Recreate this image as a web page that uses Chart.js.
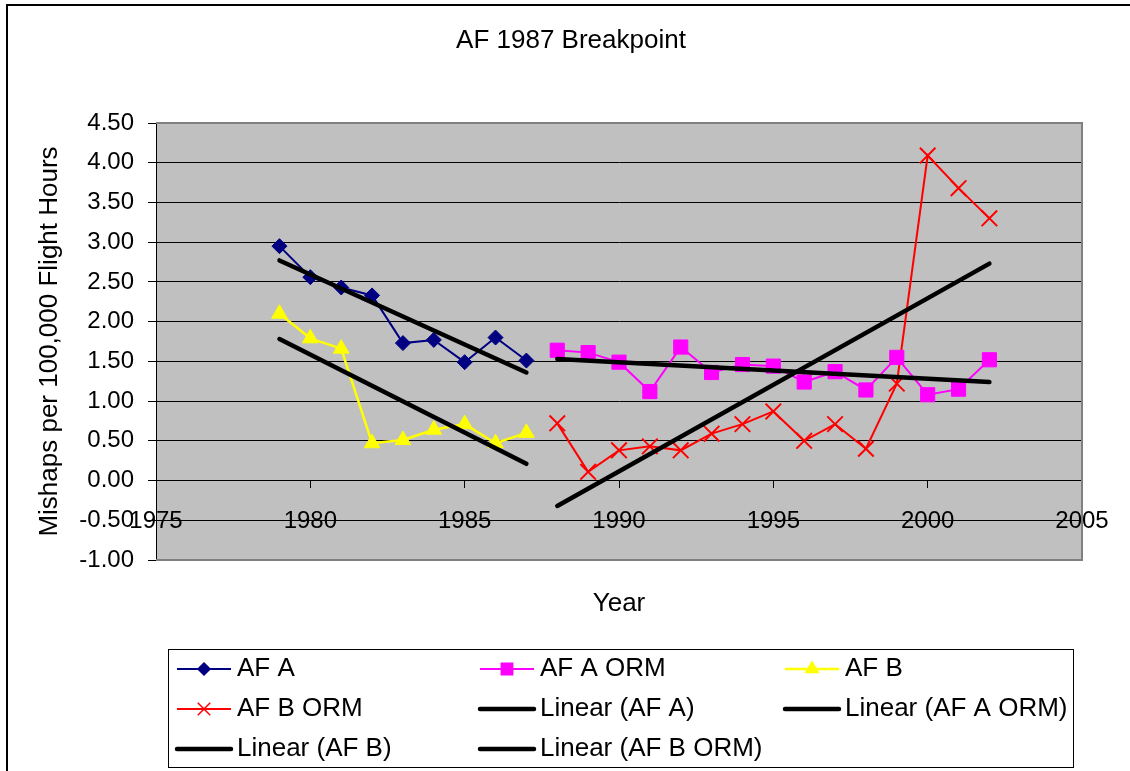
<!DOCTYPE html>
<html>
<head>
<meta charset="utf-8">
<script src="https://cdn.jsdelivr.net/npm/chart.js"></script>
<style>
html,body{margin:0;padding:0;background:#fff;overflow:hidden;}
#wrap{width:1130px;height:771px;position:relative;}
canvas{display:block;}
</style>
</head>
<body>
<div id="wrap"><canvas id="c" width="1130" height="771"></canvas></div>
<script>
// ---- Data ----
const chartTitle = 'AF 1987 Breakpoint';
const xAxisTitle = 'Year';
const yAxisTitle = 'Mishaps per 100,000 Flight Hours';

const yearsPre  = [1979, 1980, 1981, 1982, 1983, 1984, 1985, 1986, 1987];
const afA       = [2.95, 2.56, 2.43, 2.33, 1.73, 1.77, 1.49, 1.80, 1.51];
const afB       = [2.10, 1.79, 1.66, 0.47, 0.51, 0.64, 0.71, 0.47, 0.60];

const yearsPost = [1988, 1989, 1990, 1991, 1992, 1993, 1994, 1995, 1996, 1997, 1998, 1999, 2000, 2001, 2002];
const afAORM    = [1.64, 1.61, 1.49, 1.12, 1.68, 1.36, 1.46, 1.44, 1.24, 1.37, 1.14, 1.55, 1.08, 1.15, 1.52];
const afBORM    = [0.72, 0.11, 0.38, 0.43, 0.38, 0.59, 0.71, 0.87, 0.50, 0.71, 0.40, 1.22, 4.09, 3.68, 3.30];

// Trend line end points as drawn in the reference
const trendYearsPre  = [1979, 1987];
const trendAFA       = [2.77, 1.36];
const trendAFB       = [1.78, 0.21];
const trendYearsPost = [1988, 2002];
const trendAFAORM    = [1.53, 1.24];
const trendAFBORM    = [-0.32, 2.73];

const xTickValues = [1975, 1980, 1985, 1990, 1995, 2000, 2005];
const yTickValues = [-1.00, -0.50, 0.00, 0.50, 1.00, 1.50, 2.00, 2.50, 3.00, 3.50, 4.00, 4.50];

const seriesNames = ['AF A', 'AF A ORM', 'AF B', 'AF B ORM',
                     'Linear (AF A)', 'Linear (AF A ORM)', 'Linear (AF B)', 'Linear (AF B ORM)'];

// ---- helpers ----
const pts = (xs, ys) => xs.map((x, i) => ({x: x, y: ys[i]}));
const FONT = '"Liberation Sans", Arial, sans-serif';

function drawMarker(ctx, style, x, y, r, color, lw) {
  ctx.save();
  ctx.fillStyle = color; ctx.strokeStyle = color; ctx.lineWidth = lw;
  ctx.beginPath();
  if (style === 'rectRot') {
    ctx.moveTo(x, y - r); ctx.lineTo(x + r, y); ctx.lineTo(x, y + r); ctx.lineTo(x - r, y); ctx.closePath();
    ctx.fill(); ctx.stroke();
  } else if (style === 'rect') {
    const s = r * Math.SQRT1_2;
    ctx.rect(x - s, y - s, 2 * s, 2 * s); ctx.fill(); ctx.stroke();
  } else if (style === 'triangle') {
    const a = r;
    ctx.moveTo(x, y - a);
    ctx.lineTo(x + a * Math.cos(Math.PI / 6), y + a * 0.5);
    ctx.lineTo(x - a * Math.cos(Math.PI / 6), y + a * 0.5);
    ctx.closePath(); ctx.fill(); ctx.stroke();
  } else if (style === 'crossRot') {
    const s = r * Math.SQRT1_2;
    ctx.moveTo(x - s, y - s); ctx.lineTo(x + s, y + s);
    ctx.moveTo(x + s, y - s); ctx.lineTo(x - s, y + s);
    ctx.stroke();
  }
  ctx.restore();
}

const decorPlugin = {
  id: 'decor',
  beforeDraw(chart) {
    const {ctx, chartArea: a} = chart;
    ctx.save();
    ctx.fillStyle = '#ffffff';
    ctx.fillRect(0, 0, chart.width, chart.height);
    ctx.fillStyle = '#c0c0c0';
    ctx.fillRect(a.left, a.top, a.right - a.left, a.bottom - a.top);
    ctx.restore();
  },
  beforeDatasetsDraw(chart) {
    const {ctx, chartArea: a} = chart;
    ctx.save();
    ctx.strokeStyle = '#808080';
    ctx.lineWidth = 2;
    ctx.beginPath();
    ctx.moveTo(a.left, a.top); ctx.lineTo(a.right, a.top);
    ctx.lineTo(a.right, a.bottom); ctx.lineTo(a.left, a.bottom);
    ctx.stroke();
    ctx.restore();
  },
  afterDraw(chart) {
    const {ctx, chartArea: a} = chart;
    ctx.save();
    // outer frame
    ctx.strokeStyle = '#000'; ctx.lineWidth = 2;
    ctx.strokeRect(7, 5, 1200, 900);
    // chart title
    ctx.fillStyle = '#000';
    ctx.font = '26px ' + FONT;
    ctx.textAlign = 'center'; ctx.textBaseline = 'middle';
    ctx.fillText(chartTitle, 571, 41);
    // x axis title
    ctx.fillText(xAxisTitle, (a.left + a.right) / 2, 604);
    // legend
    const box = {l: 168, t: 649, r: 1073, b: 767};
    ctx.lineWidth = 1; ctx.strokeStyle = '#000';
    ctx.strokeRect(box.l + 0.5, box.t + 0.5, box.r - box.l, box.b - box.t);
    const colX = [177, 480, 785];
    const rowY = [669, 709, 749];
    chart.data.datasets.forEach((ds, i) => {
      const cx = colX[i % 3], cy = rowY[Math.floor(i / 3)];
      ctx.save();
      ctx.strokeStyle = ds.borderColor;
      ctx.lineWidth = ds.borderWidth;
      ctx.lineCap = ds.borderCapStyle || 'butt';
      ctx.beginPath(); ctx.moveTo(cx, cy); ctx.lineTo(cx + 54, cy); ctx.stroke();
      ctx.restore();
      if (ds.pointRadius > 0) {
        drawMarker(ctx, ds.pointStyle, cx + 27, cy, ds.pointRadius * 0.8, ds.borderColor, 1.5);
      }
      ctx.fillStyle = '#000';
      ctx.font = '26px ' + FONT;
      ctx.textAlign = 'left'; ctx.textBaseline = 'middle';
      ctx.fillText(ds.label, cx + 60, cy);
    });
    ctx.restore();
  }
};

const trendStyle = {borderColor: '#000000', borderWidth: 4.5, borderCapStyle: 'round', pointRadius: 0, pointHoverRadius: 0, order: 0, fill: false, tension: 0};

new Chart(document.getElementById('c'), {
  type: 'line',
  data: {
    datasets: [
      {label: seriesNames[0], data: pts(yearsPre, afA), borderColor: '#000080', backgroundColor: '#000080',
       borderWidth: 2, pointStyle: 'rectRot', pointRadius: 7.5, pointBorderWidth: 1, order: 1},
      {label: seriesNames[1], data: pts(yearsPost, afAORM), borderColor: '#ff00ff', backgroundColor: '#ff00ff',
       borderWidth: 2, pointStyle: 'rect', pointRadius: 10, pointBorderWidth: 1, order: 1},
      {label: seriesNames[2], data: pts(yearsPre, afB), borderColor: '#ffff00', backgroundColor: '#ffff00',
       borderWidth: 2.5, pointStyle: 'triangle', pointRadius: 9, pointBorderWidth: 1, order: 1},
      {label: seriesNames[3], data: pts(yearsPost, afBORM), borderColor: '#ff0000', backgroundColor: '#ff0000',
       borderWidth: 2, pointStyle: 'crossRot', pointRadius: 11, pointBorderWidth: 2, order: 1},
      Object.assign({label: seriesNames[4], data: pts(trendYearsPre, trendAFA)}, trendStyle),
      Object.assign({label: seriesNames[5], data: pts(trendYearsPost, trendAFAORM)}, trendStyle),
      Object.assign({label: seriesNames[6], data: pts(trendYearsPre, trendAFB)}, trendStyle),
      Object.assign({label: seriesNames[7], data: pts(trendYearsPost, trendAFBORM)}, trendStyle)
    ]
  },
  options: {
    responsive: false,
    animation: false,
    devicePixelRatio: 1,
    layout: {padding: {left: 20, right: 48, top: 123, bottom: 211}},
    plugins: {
      legend: {display: false},
      tooltip: {enabled: false},
      title: {display: false}
    },
    scales: {
      x: {
        type: 'linear',
        position: {y: 0},
        min: xTickValues[0], max: xTickValues[xTickValues.length - 1],
        afterBuildTicks: (s) => { s.ticks = xTickValues.map(v => ({value: v})); },
        grid: {drawOnChartArea: false, drawTicks: true, tickLength: 7, tickColor: '#000', color: '#000'},
        border: {display: true, color: '#000', width: 1},
        ticks: {color: '#000', padding: 19, maxRotation: 0, autoSkip: false,
                font: {family: FONT, size: 24}, callback: (v) => String(v)}
      },
      y: {
        type: 'linear',
        position: 'left',
        min: yTickValues[0], max: yTickValues[yTickValues.length - 1],
        afterBuildTicks: (s) => { s.ticks = yTickValues.map(v => ({value: v})); },
        afterFit: (s) => { s.width = 136; },
        grid: {
          color: (c) => (c.tick && (Math.abs(c.tick.value - 4.5) < 1e-9 || Math.abs(c.tick.value + 1) < 1e-9)) ? 'rgba(0,0,0,0)' : '#000',
          tickColor: '#000', tickLength: 8, lineWidth: 1
        },
        border: {display: true, color: '#000', width: 1},
        ticks: {color: '#000', padding: 14, font: {family: FONT, size: 24},
                callback: (v) => Number(v).toFixed(2)},
        title: {display: true, text: yAxisTitle, color: '#000', padding: {top: 14, bottom: 0},
                font: {family: FONT, size: 26, weight: 'normal'}}
      }
    }
  },
  plugins: [decorPlugin]
});
</script>
</body>
</html>
